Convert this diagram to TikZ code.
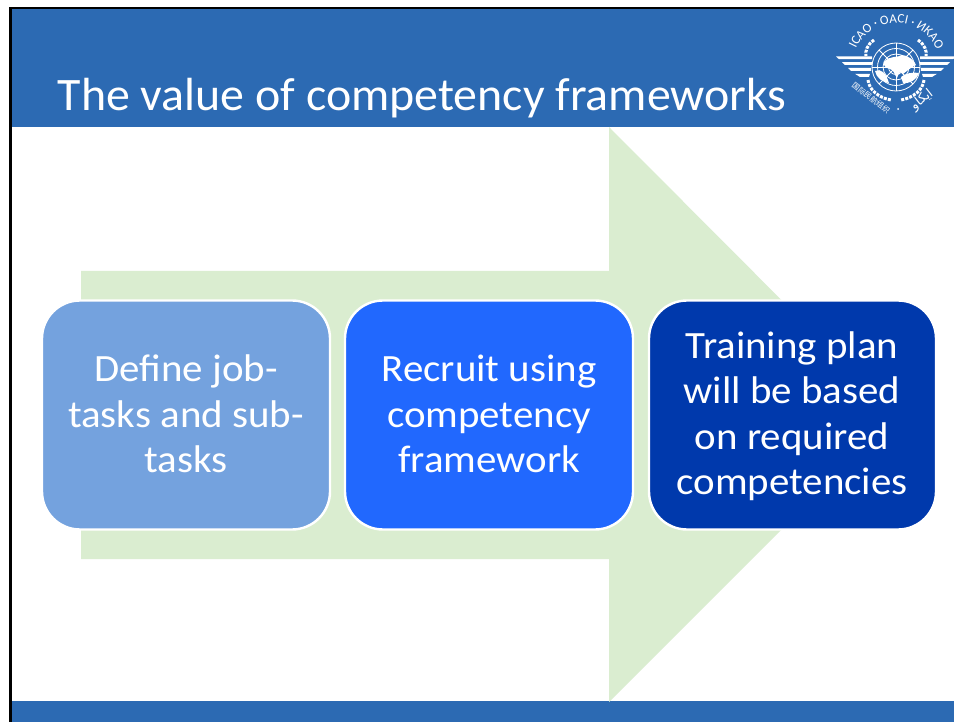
\documentclass[tikz,border=0pt]{standalone}
\usepackage{fontspec}
\setmainfont{Carlito}
\newfontfamily\bodyf[FakeStretch=1.06]{Carlito}
\newfontfamily\titlef[FakeStretch=1.03]{Carlito}
\newfontfamily\cjkf{Noto Sans CJK SC}
\newfontfamily\arabf[Script=Arabic]{DejaVu Sans}
\usetikzlibrary{decorations.text,shapes.geometric}
\TeXXeTstate=1
\definecolor{band}{HTML}{2C6AB3}
\definecolor{arrowgreen}{HTML}{DAEDD0}
\definecolor{boxa}{HTML}{74A2DE}
\definecolor{boxb}{HTML}{2168FE}
\definecolor{boxc}{HTML}{0039AC}
\tikzset{
  stagebox/.style={rounded corners=38pt,draw=white,line width=2.4pt,
    minimum height=229pt,inner sep=0pt},
  stagetext/.style={text=white,align=center,inner sep=0pt,font=\bodyf\fontsize{38.6}{45.5}\selectfont},
  globeline/.style={white,line width=.8pt},
  leaf/.style={white,line width=3pt,dash pattern=on 3pt off 1.2pt}
}
\begin{document}
\begin{tikzpicture}[x=1pt,y=-1pt]
\useasboundingbox (0,0) rectangle (954,722);
\fill[white] (0,0) rectangle (954,722);
% slide
\fill[band] (11,8) rectangle (954,127);
\fill[band] (11,701) rectangle (954,722);
\fill[black] (9,7) rectangle (954,9.5);
\fill[black] (9,7) rectangle (11.5,722);
% arrow
\fill[arrowgreen] (81,271) -- (609,271) -- (609,127) -- (896,415) -- (609,702) -- (609,559) -- (81,559) -- cycle;
% title
\node[anchor=base west,inner sep=0pt,text=white,font=\titlef\fontsize{46.5}{50}\selectfont] (title) at (57.5,111) {The value of competency frameworks};
% boxes
\node[stagebox,fill=boxa,minimum width=288pt] (b1) at (186,415) {};
\node[stagebox,fill=boxb,minimum width=288pt] (b2) at (489,415) {};
\node[stagebox,fill=boxc,minimum width=287pt] (b3) at (792.5,415) {};
\node[stagetext] (t1) at (186,414) {Define job-\\tasks and sub-\\tasks};
\node[stagetext] (t2) at (489,414) {Recruit using\\competency\\framework};
\node[stagetext] (t3) at (792,416) {Training plan\\will be based\\on required\\competencies};
% emblem
\begin{scope}[shift={(896,67)}]
  % wreath
  \foreach \s in {1,-1}{
    \begin{scope}[xscale=\s]
      \draw[leaf] (22,-27) .. controls (29,-22) and (31,-16) .. (30,-11);
      \draw[leaf] (28,13) .. controls (27,23) and (17,31) .. (5,33);
    \end{scope}
  }
  % wings
  \foreach \s in {1,-1}{
    \begin{scope}[xscale=\s]
      \fill[white] (60,-10.5) -- (24,-10.5) -- (24,-7.8) -- (57,-7.8) -- cycle;
      \fill[white] (54,-4.8) -- (24,-4.8) -- (24,-2) -- (51,-2) -- cycle;
      \fill[white] (48,1) -- (25,1) -- (25,3.8) -- (45,3.8) -- cycle;
      \fill[white] (41,6.8) -- (26,6.8) -- (27,10) -- (36,10) -- cycle;
    \end{scope}
  }
  % globe
  \draw[globeline] (0,0) circle (24);
  \draw[globeline] (0,0) circle (18.5);
  \draw[globeline] (0,0) circle (13);
  \draw[globeline] (0,0) circle (7.5);
  \draw[globeline] (-24,0) -- (24,0) (0,-24) -- (0,24);
  \draw[globeline] (-17,-17) -- (17,17) (-17,17) -- (17,-17);
  % continents
  \fill[white] (-12,-5) .. controls (-6,-12) and (2,-9) .. (6,-12) .. controls (12,-12) and (19,-6) .. (20,-2)
     .. controls (14,1) and (11,4) .. (7,7) .. controls (4,3) and (3,6) .. (1,11) .. controls (-2,7) and (-2,3) .. (-6,2) .. controls (-10,1) and (-13,-1) .. (-12,-5) -- cycle;
  \fill[white] (-21,4) .. controls (-15,1) and (-10,6) .. (-7,16) .. controls (-12,16) and (-20,11) .. (-21,4) -- cycle;
  \fill[white] (5,10) .. controls (9,6) and (18,5) .. (23,6) .. controls (21,13) and (13,17) .. (7,16) -- cycle;
  % legend
  \path[decorate,decoration={text along path,text align={fit to path},
    text={|\fontsize{13}{13}\selectfont\color{white}|ICAO · OACI · ИКАО}}]
    (-40,-18) arc[start angle=204,end angle=336,radius=44];
  \node[white,rotate=-37,inner sep=0pt,font=\cjkf\fontsize{7.5}{7.5}\selectfont] (cn) at (-25,31) {国际民航组织};
  \node[white,rotate=38,inner sep=0pt,font=\arabf\fontsize{13}{13}\selectfont] (ar) at (26,33) {\beginR ايكاو\endR};
  \fill[white] (2,42) circle (1);
\end{scope}
\end{tikzpicture}
\end{document}
